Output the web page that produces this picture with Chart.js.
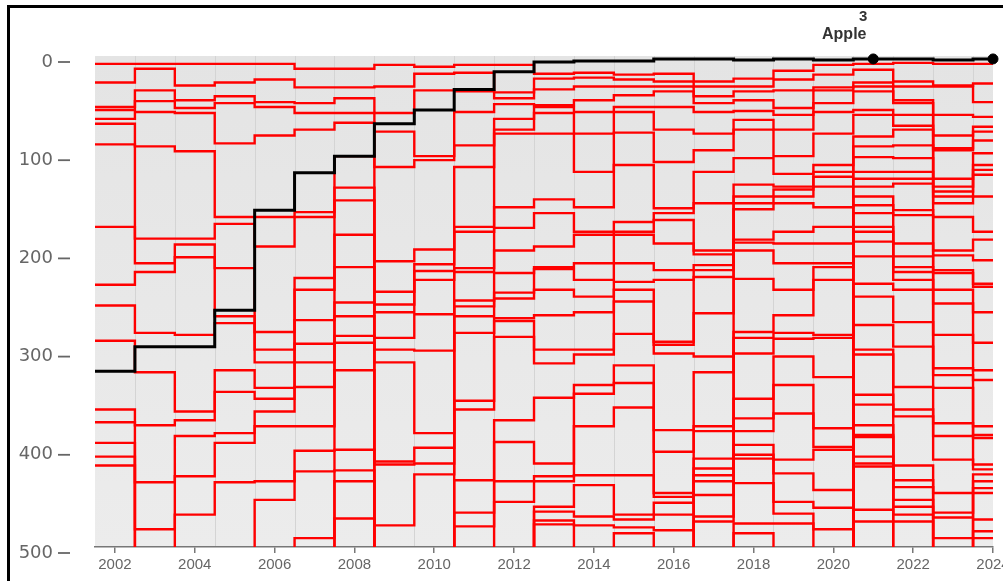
<!DOCTYPE html>
<html>
<head>
<meta charset="utf-8">
<script src="https://cdn.jsdelivr.net/npm/chart.js@4"></script>
<style>
  html, body { margin: 0; padding: 0; background: #fff; overflow: hidden; width: 1003px; height: 581px; }
  #wrap { position: relative; width: 1003px; height: 581px; overflow: hidden; }
  #grafico { position: absolute; left: 0; top: 0; }
  #moldura { position: absolute; left: 7px; top: 5px; right: -10px; bottom: -10px;
             border-left: 3px solid #000; border-top: 3px solid #000; pointer-events: none; }
</style>
</head>
<body>
<div id="wrap">
  <canvas id="grafico" width="1060" height="581"></canvas>
  <div id="moldura"></div>
</div>
<script>
// Anos e marcas dos eixos
const anos = [2002, 2003, 2004, 2005, 2006, 2007, 2008, 2009, 2010, 2011, 2012,
              2013, 2014, 2015, 2016, 2017, 2018, 2019, 2020, 2021, 2022, 2023, 2024];
const anosTicks = [2002, 2004, 2006, 2008, 2010, 2012, 2014, 2016, 2018, 2020, 2022, 2024];
const marcasY = [0, 100, 200, 300, 400, 500];

// Posição da Apple no ranking
const apple = [321, 296, 296, 259, 157, 119, 102, 69, 55, 34, 16, 6, 5, 5, 3, 3, 4, 3, 4, 3, 3, 4, 3];
const anosDestaque = [2021, 2024];

// Posições das empresas destacadas (vermelho), por ano
const r2002 = [8, 27, 52, 55, 64, 69, 90, 174, 233, 254, 290, 360, 373, 394, 408, 417];
const r2003 = [8, 13, 35, 46, 57, 92, 186, 211, 220, 282, 322, 376, 434, 482];
const r2004 = [8, 30, 45, 53, 58, 97, 186, 192, 205, 284, 362, 371, 387, 428, 467];
const r2005 = [8, 27, 41, 48, 89, 164, 171, 216, 265, 272, 320, 342, 384, 394, 434];
const r2006 = [8, 24, 47, 52, 81, 164, 194, 281, 299, 312, 338, 349, 362, 377, 433, 452];
const r2007 = [13, 32, 48, 58, 75, 159, 164, 226, 238, 269, 293, 312, 337, 377, 402, 423, 491];
const r2008 = [13, 32, 43, 58, 68, 102, 134, 147, 182, 215, 251, 265, 285, 292, 320, 401, 422, 433, 471];
const r2009 = [9, 31, 58, 77, 113, 209, 240, 253, 261, 287, 299, 312, 413, 416, 478];
const r2010 = [11, 18, 35, 102, 106, 197, 212, 219, 228, 263, 300, 384, 399, 415, 426];
const r2011 = [9, 17, 36, 57, 91, 113, 174, 179, 216, 220, 249, 255, 265, 282, 351, 360, 432, 465, 479];
const r2012 = [9, 37, 43, 49, 64, 75, 79, 154, 175, 198, 221, 241, 247, 267, 270, 286, 371, 393, 433, 454];
const r2013 = [18, 23, 34, 50, 52, 58, 79, 146, 160, 194, 215, 217, 238, 264, 299, 313, 348, 415, 428, 433, 459, 464, 473, 477];
const r2014 = [17, 22, 31, 45, 57, 79, 118, 154, 179, 182, 211, 228, 245, 261, 299, 304, 335, 344, 377, 427, 437, 469, 478];
const r2015 = [19, 24, 31, 40, 52, 57, 78, 111, 169, 179, 182, 211, 230, 238, 250, 283, 315, 333, 358, 427, 467, 472, 480, 486];
const r2016 = [18, 26, 31, 36, 52, 75, 108, 155, 160, 167, 191, 218, 228, 291, 294, 303, 381, 403, 445, 449, 455, 467, 483];
const r2017 = [26, 31, 41, 48, 57, 79, 96, 118, 150, 198, 202, 213, 218, 225, 262, 306, 322, 377, 382, 410, 420, 427, 433, 447, 469, 474];
const r2018 = [23, 31, 36, 45, 56, 65, 75, 104, 131, 143, 150, 156, 187, 190, 198, 227, 281, 287, 303, 349, 369, 382, 396, 406, 410, 435, 476, 486];
const r2019 = [15, 24, 35, 53, 60, 75, 102, 120, 133, 136, 143, 150, 179, 191, 211, 238, 264, 282, 288, 306, 335, 364, 411, 425, 454, 466, 476];
const r2020 = [9, 19, 32, 35, 48, 57, 79, 111, 118, 123, 133, 154, 174, 191, 211, 215, 228, 284, 287, 327, 379, 398, 401, 442, 460, 482];
const r2021 = [8, 14, 27, 31, 36, 55, 60, 82, 92, 103, 118, 125, 133, 143, 152, 160, 174, 179, 189, 204, 232, 245, 274, 299, 304, 345, 355, 376, 386, 388, 408, 415, 418, 462, 474];
const r2022 = [7, 26, 31, 45, 48, 60, 71, 75, 91, 104, 118, 125, 130, 157, 162, 191, 204, 215, 220, 228, 238, 271, 296, 337, 360, 367, 417, 432, 439, 452, 459, 467, 474];
const r2023 = [8, 30, 31, 60, 81, 94, 96, 125, 133, 138, 143, 150, 164, 198, 203, 218, 221, 238, 252, 284, 318, 325, 338, 374, 387, 411, 445, 465, 470, 491];
const r2024 = [8, 28, 47, 62, 72, 77, 86, 99, 111, 116, 121, 143, 179, 187, 208, 232, 235, 261, 292, 320, 330, 377, 386, 389, 416, 421, 426, 433, 440, 445, 472, 484, 491];

// Fora da lista (abaixo de 500)
const FORA = 540;

const destaquesPorAno = [r2002, r2003, r2004, r2005, r2006, r2007, r2008, r2009, r2010, r2011, r2012,
                         r2013, r2014, r2015, r2016, r2017, r2018, r2019, r2020, r2021, r2022, r2023, r2024];

// Converte uma série anual em degraus (cada ano ocupa de ano-0.5 a ano+0.5)
function degraus(valores) {
  const pts = anos.map((ano, i) => ({ x: ano - 0.5, y: valores[i] }));
  pts.push({ x: anos[anos.length - 1], y: valores[valores.length - 1] });
  return pts;
}

const maxLinhas = Math.max(...destaquesPorAno.map(l => l.length));
const datasetsVermelhos = [];
for (let k = 0; k < maxLinhas; k++) {
  const serie = destaquesPorAno.map(lista => (k < lista.length ? lista[k] : FORA));
  datasetsVermelhos.push({
    data: degraus(serie),
    stepped: true,
    borderColor: '#ff0000',
    borderWidth: 2.4,
    pointRadius: 0,
    order: 2
  });
}

const pontosApple = anosDestaque.map(ano => ({ x: ano, y: apple[anos.indexOf(ano)] }));

// Fundo cinza, divisões dos anos, traços do eixo y e rótulo da Apple
const fundoPlugin = {
  id: 'fundo',
  beforeDraw(chart) {
    const { ctx, chartArea: a, scales: { x } } = chart;
    ctx.save();
    const grad = ctx.createLinearGradient(0, a.top, 0, a.bottom);
    grad.addColorStop(0, '#e4e4e4');
    grad.addColorStop(1, '#ececec');
    ctx.fillStyle = grad;
    ctx.fillRect(a.left, a.top, a.right - a.left, a.bottom - a.top);
    ctx.strokeStyle = '#d4d4d4';
    ctx.lineWidth = 1;
    anos.forEach(ano => {
      const px = Math.round(x.getPixelForValue(ano + 0.5)) + 0.5;
      if (px < a.right - 1) {
        ctx.beginPath();
        ctx.moveTo(px, a.top);
        ctx.lineTo(px, a.bottom);
        ctx.stroke();
      }
    });
    ctx.restore();
  },
  afterDraw(chart) {
    const { ctx, scales: { y } } = chart;
    ctx.save();
    ctx.strokeStyle = '#666';
    ctx.lineWidth = 1.8;
    marcasY.forEach(v => {
      const py = y.getPixelForValue(v) + 6;
      ctx.beginPath();
      ctx.moveTo(58, py);
      ctx.lineTo(70, py);
      ctx.stroke();
    });

    const meta = chart.getDatasetMeta(1);
    const p = meta.data[0];
    ctx.fillStyle = '#333';
    ctx.textAlign = 'center';
    ctx.textBaseline = 'middle';
    ctx.font = 'bold 16px "Liberation Sans"';
    ctx.fillText('Apple', p.x - 29, p.y - 24);
    ctx.font = 'bold 15px "Liberation Sans"';
    ctx.fillText(String(pontosApple[0].y), p.x - 10, p.y - 42);
    ctx.restore();
  }
};

const ctx = document.getElementById('grafico').getContext('2d');
new Chart(ctx, {
  type: 'line',
  data: {
    datasets: [
      {
        data: degraus(apple),
        stepped: true,
        borderColor: '#000',
        borderWidth: 3,
        pointRadius: 0,
        order: 0
      },
      {
        data: pontosApple,
        showLine: false,
        pointRadius: 5,
        pointBackgroundColor: '#000',
        pointBorderColor: '#000',
        clip: false,
        order: 0
      },
      ...datasetsVermelhos
    ]
  },
  options: {
    responsive: false,
    animation: false,
    events: [],
    layout: { padding: { left: 0, top: 56, right: 67, bottom: 0 } },
    plugins: {
      legend: { display: false },
      tooltip: { enabled: false }
    },
    scales: {
      x: {
        type: 'linear',
        min: 2001.5,
        max: 2024,
        afterBuildTicks: s => { s.ticks = anosTicks.map(v => ({ value: v })); },
        afterFit: s => { s.height = 34; },
        grid: { display: true, drawOnChartArea: false, drawTicks: true, tickLength: 6, color: '#777', lineWidth: 1.5 },
        border: { display: true, color: '#777', width: 1.5 },
        ticks: {
          color: '#666',
          font: { family: 'Liberation Sans', size: 15 },
          padding: 3,
          maxRotation: 0,
          autoSkip: false,
          callback: v => String(v)
        }
      },
      y: {
        type: 'linear',
        min: 0,
        max: 500,
        reverse: true,
        afterBuildTicks: s => { s.ticks = marcasY.map(v => ({ value: v })); },
        afterFit: s => { s.width = 95; s.paddingTop = 0; s.paddingBottom = 0; },
        grid: { display: false, drawTicks: false },
        border: { display: false },
        ticks: {
          color: '#666',
          font: { family: 'DejaVu Sans', size: 18 },
          padding: 42,
          labelOffset: 6,
          callback: v => String(v)
        }
      }
    }
  },
  plugins: [fundoPlugin]
});
</script>
</body>
</html>
